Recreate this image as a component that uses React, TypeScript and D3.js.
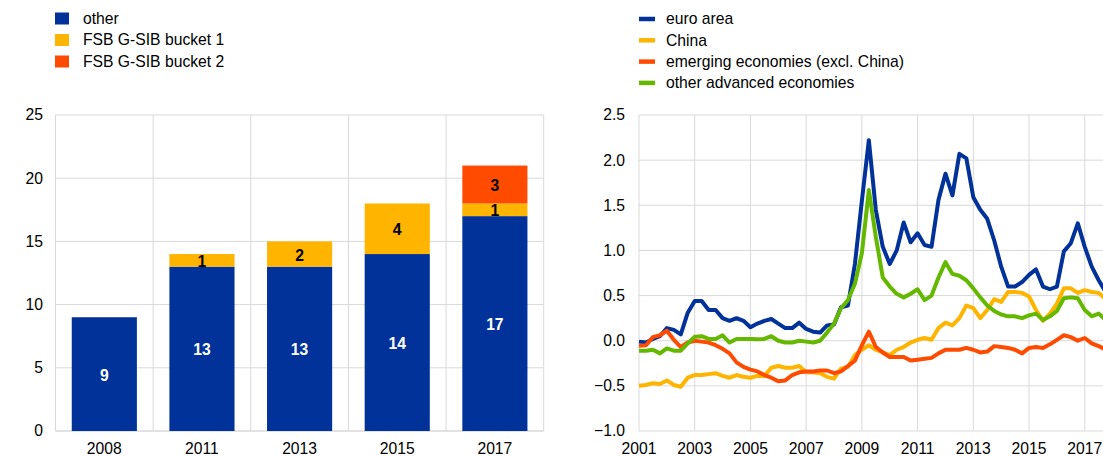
import React from "react";
import * as d3 from "d3";

// ---------- Left chart data ----------
const barCategories = ["2008", "2011", "2013", "2015", "2017"];
const otherValues = [9, 13, 13, 14, 17];
const bucket1Values = [0, 1, 2, 4, 1];
const bucket2Values = [0, 0, 0, 0, 3];
const barSeriesNames = ["other", "FSB G-SIB bucket 1", "FSB G-SIB bucket 2"];
const barYTicks = [0, 5, 10, 15, 20, 25];

// ---------- Right chart data (quarterly, 2001Q1 - 2017Q4) ----------
const startYear = 2001;
const euroArea = [
  -0.01, -0.02, 0.02, 0.05,
  0.14, 0.12, 0.07, 0.31,
  0.44, 0.44, 0.34, 0.34,
  0.25, 0.22, 0.25, 0.22,
  0.15, 0.19, 0.22, 0.24,
  0.19, 0.14, 0.14, 0.2,
  0.13, 0.1, 0.09, 0.17,
  0.18, 0.37, 0.39, 0.85,
  1.55, 2.22, 1.45, 1.04,
  0.85, 1.0, 1.31, 1.09,
  1.19, 1.06, 1.04, 1.56,
  1.85, 1.61, 2.07, 2.02,
  1.59, 1.45, 1.35, 1.11,
  0.82, 0.6, 0.6, 0.65,
  0.73, 0.79, 0.6, 0.57,
  0.6, 0.99, 1.08, 1.3,
  1.04, 0.82, 0.67, 0.54,
];
const china = [
  -0.5, -0.49, -0.47, -0.48,
  -0.44, -0.49, -0.51, -0.41,
  -0.38, -0.38, -0.37, -0.36,
  -0.39, -0.41, -0.38, -0.4,
  -0.41, -0.39, -0.39, -0.3,
  -0.28, -0.3, -0.3, -0.28,
  -0.35, -0.35, -0.36, -0.4,
  -0.42, -0.31, -0.29, -0.16,
  -0.1, -0.05, -0.1, -0.13,
  -0.16, -0.1, -0.07, -0.02,
  0.01, 0.03, 0.01, 0.14,
  0.2, 0.17, 0.25, 0.39,
  0.36, 0.25, 0.34, 0.46,
  0.43, 0.54, 0.54, 0.53,
  0.49, 0.34, 0.22, 0.3,
  0.41, 0.58, 0.58, 0.53,
  0.56, 0.54, 0.53, 0.46,
];
const emerging = [
  -0.055, -0.05, 0.04, 0.06,
  0.11, 0.01, -0.07, -0.02,
  0.0, -0.01, -0.02, -0.05,
  -0.09, -0.14, -0.24, -0.29,
  -0.32, -0.34, -0.38, -0.41,
  -0.45, -0.44, -0.38, -0.35,
  -0.34, -0.34, -0.33, -0.33,
  -0.36, -0.34, -0.28, -0.22,
  -0.05, 0.1, -0.07, -0.13,
  -0.18, -0.18, -0.18, -0.22,
  -0.21, -0.2, -0.19, -0.14,
  -0.1, -0.1, -0.1, -0.08,
  -0.1, -0.13, -0.12, -0.06,
  -0.07, -0.08, -0.1, -0.14,
  -0.08, -0.07, -0.08, -0.04,
  0.01, 0.06, 0.04, 0.0,
  0.03, -0.03, -0.06, -0.1,
];
const otherAdvanced = [
  -0.11, -0.11, -0.1, -0.14,
  -0.085, -0.11, -0.11, -0.03,
  0.045, 0.05, 0.02, 0.02,
  0.06, -0.02, 0.02, 0.02,
  0.02, 0.015, 0.02, 0.05,
  0.0, -0.02, -0.02, 0.0,
  -0.01, -0.02, 0.0, 0.09,
  0.19, 0.36, 0.45, 0.63,
  0.97, 1.67, 1.15, 0.7,
  0.6, 0.52, 0.48, 0.52,
  0.57, 0.45, 0.5, 0.7,
  0.87, 0.74, 0.72, 0.67,
  0.58, 0.48, 0.39, 0.33,
  0.29, 0.27, 0.27, 0.25,
  0.28, 0.3, 0.23, 0.27,
  0.33, 0.47, 0.48, 0.47,
  0.34, 0.27, 0.3, 0.23,
];
const lineSeriesNames = ["euro area", "China", "emerging economies (excl. China)", "other advanced economies"];
const lineYTicks = [-1.0, -0.5, 0.0, 0.5, 1.0, 1.5, 2.0, 2.5];
const lineXTicks = [2001, 2003, 2005, 2007, 2009, 2011, 2013, 2015, 2017];

const BLUE = "#003299";
const YELLOW = "#FFB400";
const ORANGE = "#FF4B00";
const GREEN = "#65B800";
const GRID = "#d9d9d9";
const FONT = "Arial, 'Liberation Sans', sans-serif";
const FS = 15.7;

export default function App() {
  // Left chart scales
  const lx = d3.scaleBand<string>().domain(barCategories).range([55.5, 543.7]).paddingInner(0.333).paddingOuter(0.1665);
  const ly = d3.scaleLinear().domain([0, 25]).range([431, 115]);
  const step = lx.step();
  const bw = lx.bandwidth();

  const stackData = barCategories.map((c, i) => ({
    cat: c,
    other: otherValues[i],
    b1: bucket1Values[i],
    b2: bucket2Values[i],
  }));
  const stack = d3.stack<any>().keys(["other", "b1", "b2"])(stackData);
  const barColors = [BLUE, YELLOW, ORANGE];
  const labelColors = ["#ffffff", "#000000", "#000000"];

  // Right chart scales
  const rx = d3.scaleLinear().domain([2001, 2018]).range([639, 639 + 17 * 27.86]);
  const ry = d3.scaleLinear().domain([-1, 2.5]).range([431, 115]);
  const series = [euroArea, china, emerging, otherAdvanced];
  const lineColors = [BLUE, YELLOW, ORANGE, GREEN];
  const lineGen = d3
    .line<number>()
    .x((_, i) => rx(startYear + i / 4))
    .y((v) => ry(v))
    .curve(d3.curveLinear);

  return (
    <svg
      width={1103}
      height={457}
      style={{ position: "absolute", left: 0, top: 0, background: "#fff" }}
      fontFamily={FONT}
    >
      {/* ===== Left chart ===== */}
      {barSeriesNames.map((n, i) => (
        <g key={n}>
          <rect x={55} y={12.5 + i * 21.5} width={14} height={12} fill={barColors[i]} />
          <text x={83} y={18.5 + i * 21.5} dy="0.35em" fontSize={FS} fill="#000">
            {n}
          </text>
        </g>
      ))}
      {barYTicks.map((t) => (
        <g key={"ly" + t}>
          <line x1={55.5} x2={543.7} y1={ly(t)} y2={ly(t)} stroke={GRID} strokeWidth={t === 0 ? 1.5 : 1} />
          <text x={43} y={ly(t)} dy="0.35em" textAnchor="end" fontSize={FS} fill="#000">
            {t}
          </text>
        </g>
      ))}
      {d3.range(barCategories.length + 1).map((i) => {
        const x = 55.5 + i * step;
        return <line key={"lv" + i} x1={x} x2={x} y1={115} y2={431} stroke={GRID} strokeWidth={1} />;
      })}
      {stack.map((layer, si) =>
        layer.map((d, ci) => {
          const v = d[1] - d[0];
          if (v <= 0) return null;
          const x = lx(barCategories[ci]) as number;
          return (
            <g key={`b${si}-${ci}`}>
              <rect x={x} y={ly(d[1])} width={bw} height={ly(d[0]) - ly(d[1])} fill={barColors[si]} />
              <text
                x={x + bw / 2}
                y={ly((d[0] + d[1]) / 2) + 1}
                dy="0.35em"
                textAnchor="middle"
                fontSize={FS}
                fontWeight="bold"
                fill={labelColors[si]}
              >
                {v}
              </text>
            </g>
          );
        })
      )}
      {barCategories.map((c) => (
        <text key={"lx" + c} x={(lx(c) as number) + bw / 2} y={449} dy="0.35em" textAnchor="middle" fontSize={FS} fill="#000">
          {c}
        </text>
      ))}

      {/* ===== Right chart ===== */}
      {lineSeriesNames.map((n, i) => (
        <g key={n}>
          <line x1={639} x2={655} y1={19 + i * 21.3} y2={19 + i * 21.3} stroke={lineColors[i]} strokeWidth={4.5} />
          <text x={666} y={19 + i * 21.3} dy="0.35em" fontSize={FS} fill="#000">
            {n}
          </text>
        </g>
      ))}
      {lineYTicks.map((t) => (
        <g key={"ry" + t}>
          <line x1={639} x2={1103} y1={ry(t)} y2={ry(t)} stroke={GRID} strokeWidth={1} />
          <text x={625} y={ry(t)} dy="0.35em" textAnchor="end" fontSize={FS} fill="#000">
            {d3.format(".1f")(t)}
          </text>
        </g>
      ))}
      {lineXTicks.map((t) => (
        <g key={"rx" + t}>
          <line x1={rx(t)} x2={rx(t)} y1={115} y2={431} stroke={GRID} strokeWidth={1} />
          <text x={rx(t)} y={449} dy="0.35em" textAnchor="middle" fontSize={FS} fill="#000">
            {t}
          </text>
        </g>
      ))}
      {series.map((s, i) => (
        <path
          key={"line" + i}
          d={lineGen(s) || ""}
          fill="none"
          stroke={lineColors[i]}
          strokeWidth={4}
          strokeLinejoin="round"
          strokeLinecap="butt"
        />
      ))}
    </svg>
  );
}
